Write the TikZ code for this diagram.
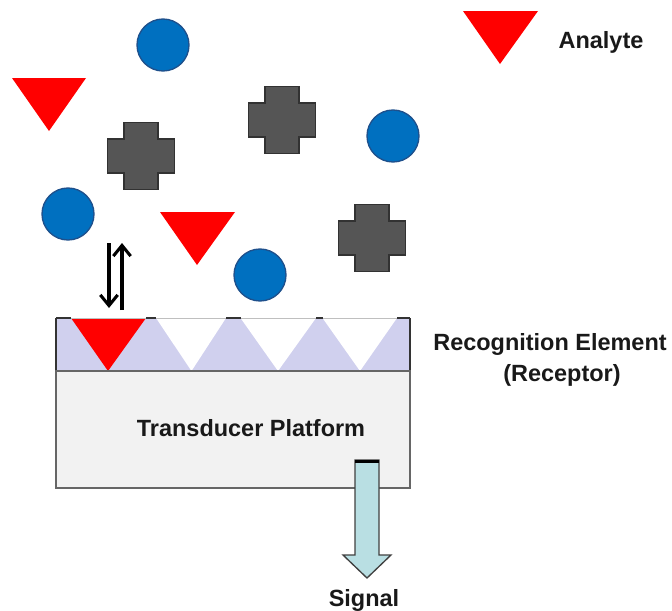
\documentclass[tikz,border=0pt]{standalone}
\usepackage{fontspec}
\setmainfont{Liberation Sans}
\usetikzlibrary{arrows.meta}
\definecolor{analyte}{RGB}{255,0,0}
\definecolor{sphere}{RGB}{0,112,192}
\definecolor{sphererim}{RGB}{30,80,140}
\definecolor{plusfill}{RGB}{85,85,85}
\definecolor{plusrim}{RGB}{50,50,50}
\definecolor{receptor}{RGB}{208,208,238}
\definecolor{platform}{RGB}{242,242,242}
\definecolor{signalfill}{RGB}{185,223,227}
\tikzset{
  label text/.style={font=\bfseries\fontsize{17.6}{21}\selectfont, text=black!90, inner sep=0pt},
  analyte tri/.style={fill=analyte, draw=none},
  sphere mol/.style={fill=sphere, draw=sphererim, line width=1pt},
  binding arrow/.style={line width=2.3pt, -{Straight Barb[length=8pt,width=13pt,line width=2.3pt]}},
  pics/plusmol/.style={code={
    \draw[fill=plusfill, draw=plusrim, line width=1.2pt]
      (-17,-33.5) -- (17,-33.5) -- (17,-17) -- (33.5,-17) -- (33.5,17) -- (17,17)
      -- (17,33.5) -- (-17,33.5) -- (-17,17) -- (-33.5,17) -- (-33.5,-17) -- (-17,-17) -- cycle;
  }}
}
\begin{document}
\begin{tikzpicture}[x=0.75pt, y=-0.75pt]
\useasboundingbox (0,0) rectangle (672,611);

% free analyte and other molecules in solution
\fill[analyte tri] (12,78) -- (86,78) -- (49,131) -- cycle;
\fill[analyte tri] (160,212) -- (235,212) -- (197,265) -- cycle;
\draw[sphere mol] (163,45) circle (26);
\draw[sphere mol] (393,136) circle (26);
\draw[sphere mol] (68,214) circle (26);
\draw[sphere mol] (260,275) circle (26);
\pic at (141,156) {plusmol};
\pic at (282,120) {plusmol};
\pic at (372,238) {plusmol};

% legend
\fill[analyte tri] (463,11) -- (538,11) -- (500,64) -- cycle;
\node[label text] (analyte) at (601,42) {Analyte};

% recognition layer with receptor sites
\fill[receptor] (56,318) rectangle (410,371);
\fill[white] (156,318) -- (226,318) -- (191.5,371) -- cycle;
\fill[white] (240.5,318) -- (316,318) -- (278,371) -- cycle;
\fill[white] (322.5,318) -- (397,318) -- (360,371) -- cycle;
\fill[analyte tri] (71,318) -- (146,318) -- (108,371) -- cycle;
\draw[line width=0.6pt, draw=black!25] (56,318) -- (410,318);
\draw[line width=1.5pt, draw=black!80] (56,318) -- (71,318) (146,318) -- (156,318)
  (226,318) -- (240.5,318) (316,318) -- (322.5,318) (397,318) -- (410,318);
\draw[line width=1.5pt, draw=black!80] (56,318) -- (56,371) -- (410,371) -- (410,318);

% transducer platform
\draw[fill=platform, draw=black!60, line width=1pt] (56,371) rectangle (410,488);
\node[label text] (transducer) at (251,428) {Transducer Platform};

% output signal
\draw[fill=signalfill, draw=black!75, line width=1pt]
  (355,460) -- (379,460) -- (379,555) -- (391,555) -- (367,578)
  -- (343,555) -- (355,555) -- cycle;
\draw[line width=2.5pt] (355,461.5) -- (379,461.5);
\node[label text] (signal) at (364,600) {Signal};

% binding equilibrium arrows
\coordinate (downstart) at (109,243);
\coordinate (downend) at (109,308);
\coordinate (upstart) at (122,310);
\coordinate (upend) at (122,243);
\draw[binding arrow] (downstart) -- (downend);
\draw[binding arrow] (upstart) -- (upend);

% receptor label
\node[label text] (recog) at (550,344) {Recognition Element};
\node[label text] (receptorlbl) at (562,375) {(Receptor)};
\end{tikzpicture}
\end{document}
